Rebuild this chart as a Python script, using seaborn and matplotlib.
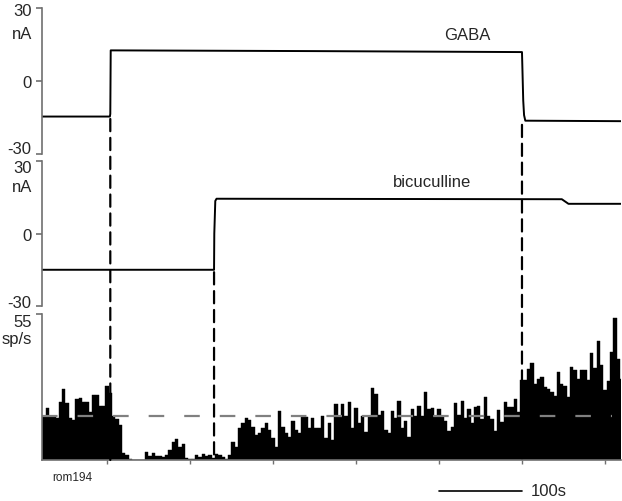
import matplotlib
matplotlib.use("Agg")
import matplotlib.pyplot as plt
import matplotlib.transforms as mtrans
import seaborn as sns
import numpy as np
from matplotlib.patches import ConnectionPatch

# ejection current traces (s, nA)
gaba_t = [-78, 3.5, 4.0, 4.5, 250, 500, 501.5, 502.5, 504, 619]
gaba_i = [-14.6, -14.6, -13.5, 12.6, 12.3, 11.9, -8.0, -14.0, -16.3, -16.5]

bic_t = [-78, 129.0, 129.3, 130.5, 132, 548, 556, 619]
bic_i = [-15.0, -15.0, 0.0, 13.5, 14.4, 14.2, 12.3, 12.3]

gaba_on, bic_on, gaba_off = 4, 129, 500

# firing rate histogram (sp/s), 4 s bins starting at -78 s
bin_width = 4
rates = [
    16.1, 19.5, 16.1, 16.1, 16.0, 22.0, 26.8, 21.4, 15.7, 15.0,
    22.9, 23.5, 22.0, 22.0, 17.9, 24.3, 24.3, 20.5, 20.5, 27.9,
    25.4, 16.4, 15.3, 13.2, 2.5, 1.9, 0.4, 0.0, 0.0, 0.0,
    0.0, 3.1, 1.5, 2.5, 1.5, 1.6, 1.0, 1.9, 3.8, 6.9,
    7.8, 5.0, 6.0, 0.6, 0.3, 0.3, 1.9, 1.0, 2.1, 1.5,
    1.9, 0.8, 2.3, 1.9, 1.0, 0.3, 1.9, 6.9, 5.0, 12.0,
    13.8, 15.7, 15.1, 12.5, 9.4, 10.3, 11.9, 13.8, 11.3, 8.2,
    5.0, 18.6, 12.3, 10.3, 8.8, 14.8, 11.3, 10.0, 16.1, 16.1,
    12.0, 15.7, 11.9, 11.9, 16.6, 8.2, 13.8, 7.5, 21.0, 16.6,
    21.0, 16.4, 22.0, 11.9, 19.5, 14.1, 16.4, 10.7, 16.4, 27.3,
    25.0, 17.0, 18.5, 11.3, 10.0, 18.5, 15.7, 22.4, 11.9, 14.8,
    8.8, 19.1, 16.4, 20.4, 16.4, 25.8, 19.1, 19.5, 16.4, 19.1,
    16.4, 14.8, 11.1, 12.6, 21.6, 17.0, 22.4, 15.7, 19.1, 13.8,
    19.9, 20.5, 15.5, 23.9, 16.7, 15.5, 11.0, 19.0, 14.2, 22.0,
    19.9, 19.9, 23.0, 18.2, 30.0, 30.0, 34.3, 36.6, 28.7, 30.6,
    31.2, 27.4, 26.8, 25.5, 24.0, 33.1, 28.7, 28.0, 23.6, 35.0,
    34.0, 30.6, 34.0, 34.0, 30.0, 40.4, 34.6, 44.7, 35.6, 26.2,
    29.7, 40.6, 53.5, 38.1, 30.6,
]
control_rate = 16.7

sns.set_style("ticks")
plt.rcParams["font.family"] = ["Liberation Sans", "DejaVu Sans"]
plt.rcParams["font.size"] = 12

spine_col = "#707070"
xlim = (-78.3, 619.3)

fig = plt.figure(figsize=(6.22, 5.02), dpi=100)
ax1 = fig.add_axes([0.0675, 0.6912, 0.9309, 0.2908])
ax2 = fig.add_axes([0.0675, 0.3884, 0.9309, 0.2888])
ax3 = fig.add_axes([0.0675, 0.0817, 0.9309, 0.2908])


def shift_label(label, dy_px):
    label.set_transform(label.get_transform() +
                        mtrans.ScaledTranslation(0, dy_px / 100, fig.dpi_scale_trans))


for ax, t, cur, name, lx, ly, shifts in [
        (ax1, gaba_t, gaba_i, "GABA", 434, 19, [7, 0, -1]),
        (ax2, bic_t, bic_i, "bicuculline", 392, 21.4, [5, 0, -5])]:
    sns.lineplot(x=t, y=cur, ax=ax, color="black", lw=1.4, sort=False, estimator=None)
    ax.set_xlim(*xlim)
    ax.set_ylim(-30, 30)
    ax.set_yticks([-30, 0, 30])
    ax.set_yticklabels(["-30", "0", "30"])
    ax.set_xticks([])
    for s in ["top", "right", "bottom"]:
        ax.spines[s].set_visible(False)
    ax.spines["left"].set_visible(True)
    ax.spines["left"].set_color(spine_col)
    ax.spines["left"].set_linewidth(1.2)
    ax.tick_params(axis="y", left=True, direction="out", length=4, width=1.2,
                   color=spine_col, pad=3.5, labelsize=12)
    for lab, dy in zip(ax.get_yticklabels(), shifts):
        shift_label(lab, dy)
    ax.text(lx, ly, name, ha="center", va="center", fontsize=12)
    ax.text(-0.017, 0.825, "nA", transform=ax.transAxes, ha="right", va="center", fontsize=12)

# histogram
edges = xlim[0] + 0.3 + bin_width * np.arange(len(rates))
ax3.bar(edges, rates, width=bin_width, align="edge", color="black",
        edgecolor="black", linewidth=0.3)
ax3.plot([xlim[0], 608], [control_rate, control_rate], color="#808080",
         lw=1.6, dashes=(7, 9), zorder=5)
ax3.set_xlim(*xlim)
ax3.set_ylim(0, 55)
ax3.set_yticks([55])
ax3.set_yticklabels(["55"])
ax3.set_xticks([0, 100, 200, 300, 400, 500, 600])
ax3.set_xticklabels([])
for s in ["top", "right"]:
    ax3.spines[s].set_visible(False)
for s in ["left", "bottom"]:
    ax3.spines[s].set_visible(True)
    ax3.spines[s].set_color(spine_col)
    ax3.spines[s].set_linewidth(1.2)
    ax3.spines[s].set_zorder(6)
ax3.tick_params(axis="y", left=True, direction="out", length=4, width=1.2,
                color=spine_col, pad=3.5, labelsize=12)
ax3.tick_params(axis="x", bottom=True, direction="out", length=3, width=1.0, color=spine_col)
shift_label(ax3.get_yticklabels()[0], -6)
ax3.text(-0.017, 0.835, "sp/s", transform=ax3.transAxes, ha="right", va="center", fontsize=12)
ax3.text(-66, -0.115, "rom194", transform=ax3.get_xaxis_transform(),
         ha="left", va="center", fontsize=8.5)

# 100 s scale bar
ax3.plot([400, 500], [-0.212, -0.212], transform=ax3.get_xaxis_transform(),
         color="black", lw=1.2, clip_on=False)
ax3.text(510, -0.212, "100s", transform=ax3.get_xaxis_transform(),
         ha="left", va="center", fontsize=12)

# dashed event markers running down to the histogram
for t, ax_start, y_start in [(gaba_on, ax1, -15.6), (bic_on, ax2, -16.0), (gaba_off, ax1, -18.0)]:
    con = ConnectionPatch(xyA=(t, y_start), coordsA=ax_start.transData,
                          xyB=(t, 0), coordsB=ax3.transData,
                          color="black", lw=1.6, linestyle=(0, (5.5, 3)))
    fig.add_artist(con)

fig.savefig("out.png", dpi=100)
